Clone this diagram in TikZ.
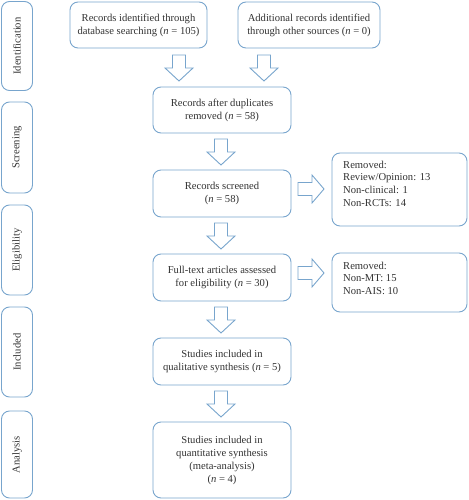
\documentclass[tikz,border=0pt]{standalone}
\usepackage{fontspec}
\setmainfont{Liberation Serif}
\definecolor{bordc}{RGB}{120,165,205}
\definecolor{txtc}{RGB}{50,50,50}
\tikzset{
  box/.style={draw=bordc, line width=0.9pt, rounded corners=8pt, text=txtc, align=center, inner sep=0pt, font=\fontsize{10.6}{13}\selectfont},
  side/.style={draw=bordc, line width=0.9pt, rounded corners=8pt, text=txtc, inner sep=0pt, minimum width=31pt, font=\fontsize{10.6}{12}\selectfont},
  rtext/.style={text=txtc, align=left, anchor=north west, inner sep=0pt, font=\fontsize{10.6}{12.7}\selectfont},
  blk/.style={draw=bordc, line width=0.9pt, fill=white},
  pics/downblk/.style={code={\draw[blk] (-6.5,0) -- (6.5,0) -- (6.5,13) -- (14,13) -- (0,26) -- (-14,13) -- (-6.5,13) -- cycle;}},
  pics/rightblk/.style={code={\draw[blk] (0,-6.5) -- (0,6.5) -- (14,6.5) -- (14,14) -- (26,0) -- (14,-14) -- (14,-6.5) -- cycle;}}
}
\begin{document}
\begin{tikzpicture}[x=1pt,y=-1pt]
\useasboundingbox (0,0) rectangle (468,500);
% side labels
\node[side, minimum height=89pt] (sid) at (17,46) {\rotatebox{90}{Identification}};
\node[side, minimum height=91pt] (sscr) at (17,147.5) {\rotatebox{90}{Screening}};
\node[side, minimum height=90pt] (selg) at (17,250) {\rotatebox{90}{Eligibility}};
\node[side, minimum height=90pt] (sinc) at (17,352) {\rotatebox{90}{Included}};
\node[side, minimum height=87pt] (sana) at (17,454.5) {\rotatebox{90}{Analysis}};
% main boxes
\node[box, minimum width=137pt, minimum height=46pt] (b1) at (138.5,25) {Records identified through\\database searching (\textit{n} = 105)};
\node[box, minimum width=142pt, minimum height=46pt] (b2) at (309,25) {Additional records identified\\through other sources (\textit{n} = 0)};
\node[box, minimum width=138pt, minimum height=46pt] (b3) at (222,110) {Records after duplicates\\removed (\textit{n} = 58)};
\node[box, minimum width=138pt, minimum height=47pt] (b4) at (222,193.5) {Records screened\\(\textit{n} = 58)};
\node[box, minimum width=138pt, minimum height=47pt] (b5) at (222,277.5) {Full-text articles assessed\\for eligibility (\textit{n} = 30)};
\node[box, minimum width=138pt, minimum height=47pt] (b6) at (222,361.5) {Studies included in\\qualitative synthesis (\textit{n} = 5)};
\node[box, minimum width=138pt, minimum height=76pt] (b7) at (222,460) {Studies included in\\quantitative synthesis\\(meta-analysis)\\(\textit{n} = 4)};
% removed boxes
\node[box, minimum width=135pt, minimum height=73pt] (r1) at (399.5,189.5) {};
\node[rtext] (r1t) at (343,160.5) {Removed:\\Review/Opinion: 13\\Non-clinical: 1\\Non-RCTs: 14};
\node[box, minimum width=135pt, minimum height=59pt] (r2) at (399.5,282.5) {};
\node[rtext] (r2t) at (343,261.5) {Removed:\\Non-MT: 15\\Non-AIS: 10};
% block arrows
\coordinate (a1) at (179,55);
\coordinate (a2) at (264,55);
\coordinate (a3) at (221,139);
\coordinate (a4) at (221,223);
\coordinate (a5) at (221,307);
\coordinate (a6) at (221,391);
\coordinate (ar1) at (298,189);
\coordinate (ar2) at (298,273);
\pic at (a1) {downblk};
\pic at (a2) {downblk};
\pic at (a3) {downblk};
\pic at (a4) {downblk};
\pic at (a5) {downblk};
\pic at (a6) {downblk};
\pic at (ar1) {rightblk};
\pic at (ar2) {rightblk};
\end{tikzpicture}
\end{document}
